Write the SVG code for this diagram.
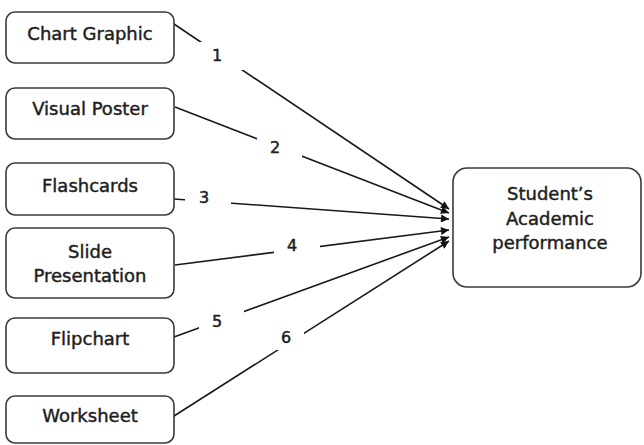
<svg xmlns="http://www.w3.org/2000/svg" width="644" height="445" viewBox="0 0 644 445">
<style>
.box{fill:#fff;stroke:#3a3a3a;stroke-width:1.6}
.t{font-family:"DejaVu Sans",sans-serif;font-size:18px;fill:#1e1e1e;stroke:#1e1e1e;stroke-width:0.45;text-anchor:middle}
.n{font-family:"DejaVu Sans",sans-serif;font-size:16px;fill:#1e1e1e;stroke:#1e1e1e;stroke-width:0.5;text-anchor:middle}
.c{stroke:#1a1a1a;stroke-width:1.6;fill:none}
.lb{fill:#fff}
</style>
<defs>
<marker id="ah" viewBox="0 0 10 10" refX="10" refY="5" markerWidth="10" markerHeight="8" markerUnits="userSpaceOnUse" orient="auto">
<path d="M0,0 L10,5 L0,10 z" fill="#111"/>
</marker>
</defs>
<rect width="644" height="445" fill="#fff"/>
<g id="connectors">
<line class="c" x1="174" y1="24" x2="449" y2="209" marker-end="url(#ah)"/>
<line class="c" x1="175" y1="107" x2="449" y2="213" marker-end="url(#ah)"/>
<line class="c" x1="174" y1="199" x2="449" y2="219" marker-end="url(#ah)"/>
<line class="c" x1="175" y1="265" x2="449" y2="230" marker-end="url(#ah)"/>
<line class="c" x1="174" y1="337" x2="449" y2="237" marker-end="url(#ah)"/>
<line class="c" x1="174" y1="416" x2="449" y2="241" marker-end="url(#ah)"/>
<rect class="lb" x="199" y="42" width="45" height="28"/>
<text class="n" x="217" y="61">1</text>
<rect class="lb" x="257" y="136" width="45" height="22"/>
<text class="n" x="275" y="153">2</text>
<rect class="lb" x="185" y="188" width="46" height="18"/>
<text class="n" x="204" y="203">3</text>
<rect class="lb" x="274" y="236" width="46" height="18"/>
<text class="n" x="292" y="251">4</text>
<rect class="lb" x="199" y="310" width="45" height="20"/>
<text class="n" x="217" y="327">5</text>
<rect class="lb" x="271" y="326" width="33" height="24"/>
<text class="n" x="286" y="343">6</text>
</g>
<g id="n1"><rect class="box" x="6" y="12" width="168" height="51" rx="9"/><text class="t" x="90" y="40">Chart Graphic</text></g>
<g id="n2"><rect class="box" x="6" y="88" width="168" height="51" rx="9"/><text class="t" x="90" y="115">Visual Poster</text></g>
<g id="n3"><rect class="box" x="6" y="163" width="168" height="52" rx="9"/><text class="t" x="90" y="192">Flashcards</text></g>
<g id="n4"><rect class="box" x="6" y="228" width="168" height="70" rx="9"/><text class="t" x="90" y="258">Slide</text><text class="t" x="90" y="282">Presentation</text></g>
<g id="n5"><rect class="box" x="6" y="318" width="168" height="55" rx="9"/><text class="t" x="90" y="345">Flipchart</text></g>
<g id="n6"><rect class="box" x="6" y="396" width="168" height="47" rx="9"/><text class="t" x="90" y="422">Worksheet</text></g>
<g id="n7"><rect class="box" x="453" y="168" width="188" height="119" rx="14"/><text class="t" x="550" y="200">Student’s</text><text class="t" x="550" y="225">Academic</text><text class="t" x="550" y="249">performance</text></g>
</svg>
